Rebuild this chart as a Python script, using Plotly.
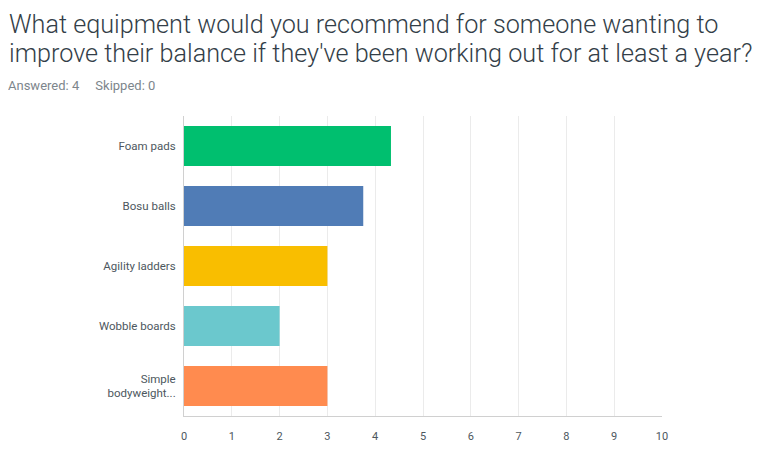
import plotly.graph_objects as go

categories = ["Foam pads", "Bosu balls", "Agility ladders", "Wobble boards", "Simple<br>bodyweight..."]
values = [4.33, 3.75, 3.0, 2.0, 3.0]
colors = ["#00bf6f", "#507cb6", "#f9be00", "#6bc8cd", "#ff8b4f"]
tick_vals = list(range(0, 11))

title_line1 = "What equipment would you recommend for someone wanting to"
title_line2 = "improve their balance if they've been working out for at least a year?"
subtitle = "Answered: 4&nbsp;&nbsp;&nbsp;&nbsp;&nbsp;Skipped: 0"

# page body has an 8px margin, so the figure is offset by (8, 8)
PL, PT, PW, PH = 184, 116, 478, 300  # plot area in page pixels


def px(x):
    return (x - PL) / PW


def py(y):
    return 1 + (PT - y) / PH


fig = go.Figure(go.Bar(
    x=values, y=categories, orientation="h",
    marker=dict(color=colors, line=dict(width=0)),
    hoverinfo="skip",
))

fig.update_layout(
    width=770, height=449,
    margin=dict(l=176, r=116, t=108, b=41),
    paper_bgcolor="white", plot_bgcolor="white",
    bargap=1/3,
    showlegend=False,
    font=dict(family="Roboto", color="#333e48"),
    xaxis=dict(range=[0, 10], tickvals=tick_vals, showgrid=True, gridcolor="#ebebeb", gridwidth=1,
               zeroline=False, showline=True, linecolor="#d0d0d0", linewidth=1,
               tickfont=dict(size=11, color="#4d575e"), ticks="", ticklabelstandoff=10, fixedrange=True),
    yaxis=dict(autorange="reversed", showline=True, linecolor="#d0d0d0", linewidth=1,
               tickfont=dict(size=11.5, color="#4d575e"), ticks="", ticklabelstandoff=5, fixedrange=True),
    annotations=[
        dict(text=title_line1, xref="paper", yref="paper", x=px(7), y=py(24),
             xanchor="left", yanchor="middle", showarrow=False, align="left",
             font=dict(size=25.2, color="#333e48", family="Roboto", weight=300)),
        dict(text=title_line2, xref="paper", yref="paper", x=px(7), y=py(53),
             xanchor="left", yanchor="middle", showarrow=False, align="left",
             font=dict(size=25.2, color="#333e48", family="Roboto", weight=300)),
        dict(text=subtitle, xref="paper", yref="paper", x=px(6), y=py(85),
             xanchor="left", yanchor="middle", showarrow=False, align="left",
             font=dict(size=13, color="#7d868c", family="Roboto")),
    ],
)

fig.write_html("out.html")
